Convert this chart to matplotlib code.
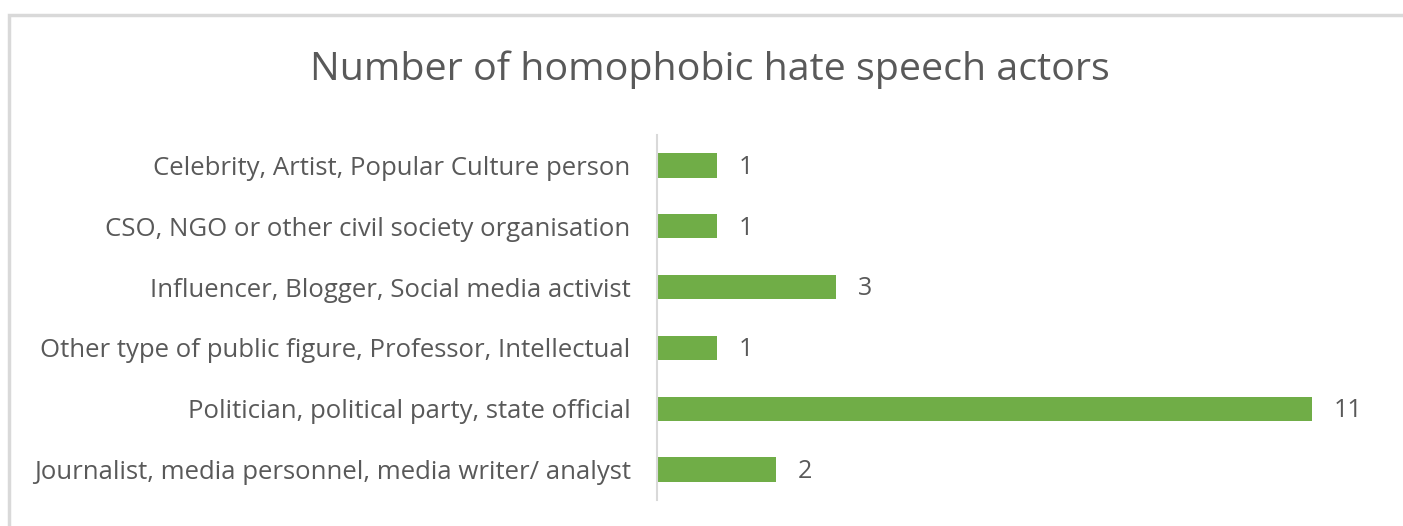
import matplotlib
matplotlib.use("Agg")
import matplotlib.pyplot as plt
from matplotlib.patches import Rectangle

categories = [
    "Celebrity, Artist, Popular Culture person",
    "CSO, NGO or other civil society organisation",
    "Influencer, Blogger, Social media activist",
    "Other type of public figure, Professor, Intellectual",
    "Politician, political party, state official",
    "Journalist, media personnel, media writer/ analyst",
]
counts = [1, 1, 3, 1, 11, 2]

plt.rcParams["font.family"] = ["Open Sans", "DejaVu Sans"]
text_color = "#595959"
bar_color = "#70ad47"
line_color = "#d9d9d9"

W, H = 1403, 526
fig = plt.figure(figsize=(W / 100, H / 100), dpi=100)

# chart-area border (top and left edges visible)
fig.patches.append(Rectangle((9 / W, -0.1), 1.2, (H - 15) / H + 0.1,
                             transform=fig.transFigure, fill=False,
                             edgecolor=line_color, linewidth=2.5))

left, right = 657 / W, 1371 / W
top, bottom = 1 - 135 / H, 1 - 500 / H
ax = fig.add_axes([left, bottom, right - left, top - bottom])

y = list(range(len(categories)))
ax.barh(y, counts, height=0.4, color=bar_color)
ax.set_ylim(len(categories) - 0.5, -0.5)
ax.set_xlim(0, 12)
ax.set_yticks(y)
ax.set_yticklabels(categories, fontsize=18.5, color=text_color)
ax.tick_params(axis="y", length=0, pad=19)
ax.set_xticks([])

for s in ["top", "right", "bottom"]:
    ax.spines[s].set_visible(False)
ax.spines["left"].set_color(line_color)
ax.spines["left"].set_linewidth(1.5)

for yi, v in zip(y, counts):
    ax.text(v + 0.37, yi + 0.03, str(v), va="center", ha="left",
            fontsize=18, color=text_color)

fig.text(710 / W, 1 - 70 / H, "Number of homophobic hate speech actors",
         ha="center", va="center", fontsize=28.4, color=text_color)

fig.savefig("out.png", dpi=100, facecolor="white")
